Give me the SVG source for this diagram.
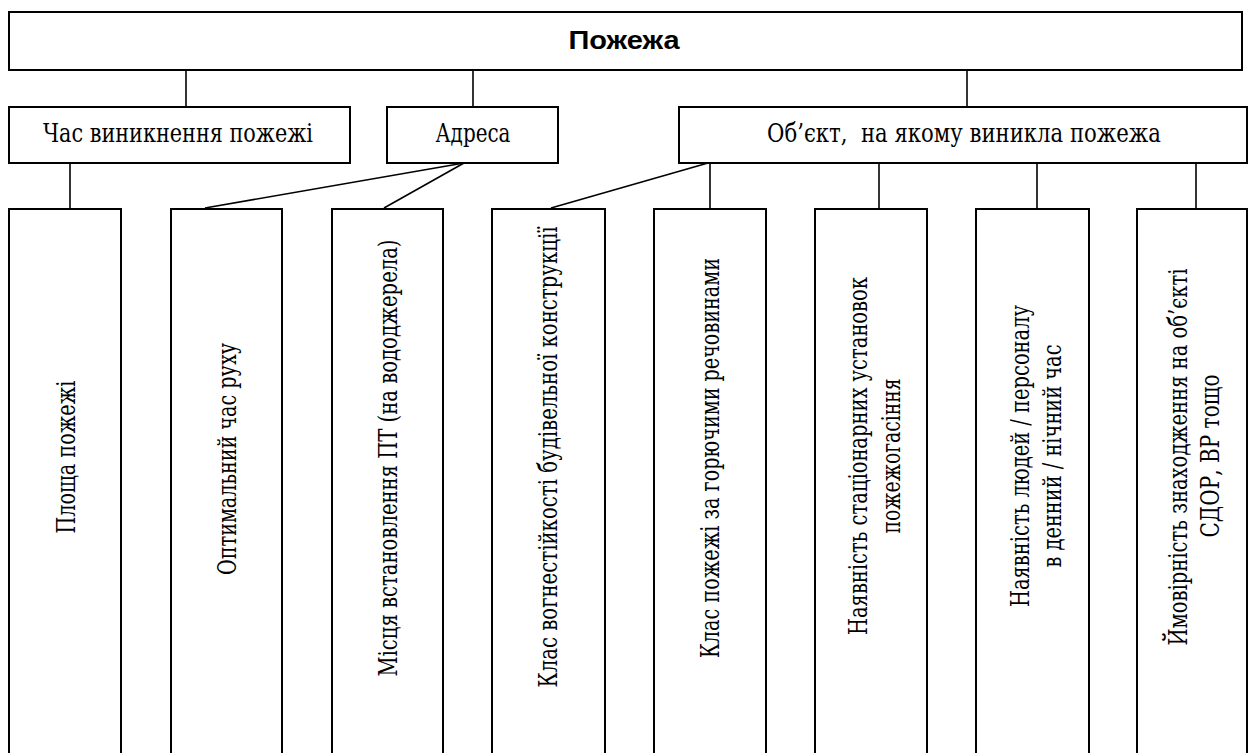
<svg xmlns="http://www.w3.org/2000/svg" width="1249" height="753" viewBox="0 0 1249 753">
<style>
.box{fill:#fff;stroke:#000;stroke-width:2}
.ln{stroke:#000;stroke-width:1.6;fill:none}
.h{font-family:'Liberation Sans',Arial,sans-serif;font-size:26px;font-weight:bold;fill:#000;text-anchor:middle}
</style>
<rect width="1249" height="753" fill="#fff"/>
<g id="connectors">
<line class="ln" x1="186" y1="70" x2="186" y2="107"/>
<line class="ln" x1="473" y1="70" x2="473" y2="107"/>
<line class="ln" x1="967" y1="70" x2="967" y2="107"/>
<line class="ln" x1="70" y1="163" x2="70" y2="209"/>
<line class="ln" x1="464" y1="163" x2="205" y2="208"/>
<line class="ln" x1="464" y1="163" x2="384" y2="208"/>
<line class="ln" x1="708" y1="163" x2="551" y2="208"/>
<line class="ln" x1="710" y1="163" x2="710" y2="209"/>
<line class="ln" x1="879" y1="163" x2="879" y2="209"/>
<line class="ln" x1="1037" y1="163" x2="1037" y2="209"/>
<line class="ln" x1="1196" y1="163" x2="1196" y2="209"/>
</g>
<g id="n-pozhezha">
<rect class="box" x="9" y="12" width="1233" height="58"/>
<text class="h" x="624" y="49" textLength="111" lengthAdjust="spacingAndGlyphs">Пожежа</text>
</g>
<g font-family="DejaVu Serif, Liberation Serif, serif" font-stretch="condensed" font-size="26" fill="#000" text-anchor="middle">
<g id="n-chas">
<rect class="box" x="9" y="107" width="341" height="56"/>
<text x="178" y="142" textLength="270" lengthAdjust="spacingAndGlyphs">Час виникнення пожежі</text>
</g>
<g id="n-adresa">
<rect class="box" x="387" y="107" width="171" height="56"/>
<text x="473" y="142" textLength="75" lengthAdjust="spacingAndGlyphs">Адреса</text>
</g>
<g id="n-obiekt">
<rect class="box" x="679" y="107" width="568" height="56"/>
<text x="964" y="142" textLength="394" lengthAdjust="spacingAndGlyphs">Об’єкт,&#160; на якому виникла пожежа</text>
</g>
<g id="n-ploshcha">
<rect class="box" x="9" y="209" width="112" height="560"/>
<text transform="translate(74.5,457) rotate(-90)" textLength="153" lengthAdjust="spacingAndGlyphs">Площа пожежі</text>
</g>
<g id="n-optymalnyi">
<rect class="box" x="171" y="209" width="111" height="560"/>
<text transform="translate(236,459) rotate(-90)" textLength="232" lengthAdjust="spacingAndGlyphs">Оптимальний час руху</text>
</g>
<g id="n-mistsia">
<rect class="box" x="332" y="209" width="111" height="560"/>
<text transform="translate(397,458) rotate(-90)" textLength="437" lengthAdjust="spacingAndGlyphs">Місця встановлення ПТ (на вододжерела)</text>
</g>
<g id="n-vohnestiikist">
<rect class="box" x="492" y="209" width="113" height="560"/>
<text transform="translate(557,457) rotate(-90)" textLength="461" lengthAdjust="spacingAndGlyphs">Клас вогнестійкості будівельної конструкції</text>
</g>
<g id="n-klas">
<rect class="box" x="654" y="209" width="112" height="560"/>
<text transform="translate(718.5,458) rotate(-90)" textLength="400" lengthAdjust="spacingAndGlyphs">Клас пожежі за горючими речовинами</text>
</g>
<g id="n-ustanovky">
<rect class="box" x="815" y="209" width="112" height="560"/>
<text transform="translate(867,456) rotate(-90)" textLength="358" lengthAdjust="spacingAndGlyphs">Наявність стаціонарних установок</text>
<text transform="translate(900,456) rotate(-90)" textLength="155" lengthAdjust="spacingAndGlyphs">пожежогасіння</text>
</g>
<g id="n-liudy">
<rect class="box" x="976" y="209" width="113" height="560"/>
<text transform="translate(1029,456) rotate(-90)" textLength="302" lengthAdjust="spacingAndGlyphs">Наявність людей / персоналу</text>
<text transform="translate(1061,456) rotate(-90)" textLength="223" lengthAdjust="spacingAndGlyphs">в денний / нічний час</text>
</g>
<g id="n-ymovirnist">
<rect class="box" x="1137" y="209" width="110" height="560"/>
<text transform="translate(1187,457) rotate(-90)" textLength="377" lengthAdjust="spacingAndGlyphs">Ймовірність знаходження на об’єкті</text>
<text transform="translate(1219,456) rotate(-90)" textLength="163" lengthAdjust="spacingAndGlyphs">СДОР, ВР тощо</text>
</g>
</g>
</svg>
